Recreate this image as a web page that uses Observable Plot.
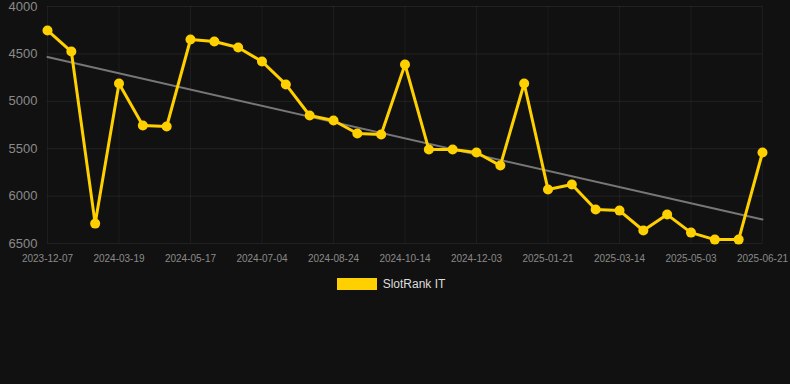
<!DOCTYPE html>
<html>
<head>
<meta charset="utf-8">
<script src="https://cdn.jsdelivr.net/npm/d3@7"></script>
<script src="https://cdn.jsdelivr.net/npm/@observablehq/plot@0.6"></script>
<style>
  html, body { margin: 0; padding: 0; background: #111111; }
  body { width: 790px; height: 384px; overflow: hidden; font-family: "Liberation Sans", Arial, sans-serif; }
  #legend { display: flex; justify-content: center; align-items: center; margin-top: 7px; color: #dddddd; font-size: 12px; padding-right: 8px; }
  #legend .sw { width: 40px; height: 12px; background: #ffd000; margin-right: 6px; }
</style>
</head>
<body>
<div id="chart"></div>
<div id="legend"><span class="sw"></span><span id="legend-label"></span></div>
<script>
const dates = [
  "2023-12-07","2024-01-10","2024-02-14","2024-03-19","2024-04-08","2024-04-28",
  "2024-05-17","2024-06-02","2024-06-18","2024-07-04","2024-07-21","2024-08-07",
  "2024-08-24","2024-09-10","2024-09-27","2024-10-14","2024-10-31","2024-11-16",
  "2024-12-03","2024-12-19","2025-01-04","2025-01-21","2025-02-07","2025-02-24",
  "2025-03-14","2025-03-31","2025-04-16","2025-05-03","2025-05-19","2025-06-04",
  "2025-06-21"
];
const ranks = [
  4253, 4475, 6290, 4812, 5255, 5266,
  4348, 4369, 4432, 4580, 4822, 5150,
  5203, 5340, 5350, 4612, 5509, 5509,
  5540, 5678, 4812, 5931, 5878, 6142,
  6153, 6363, 6195, 6385, 6459, 6459,
  5540
];
const yTicks = [4000, 4500, 5000, 5500, 6000, 6500];
const seriesName = "SlotRank IT";

document.getElementById("legend-label").textContent = seriesName;

const data = dates.map((d, i) => ({i, date: d, rank: ranks[i]}));
const xTicks = dates.map((d, i) => i).filter(i => i % 3 === 0);

const chart = Plot.plot({
  width: 790,
  height: 270,
  marginTop: 6,
  marginLeft: 47,
  marginRight: 28,
  marginBottom: 27,
  style: {background: "#111111", color: "#888888", fontFamily: "Liberation Sans, Arial, sans-serif"},
  x: {domain: [0, dates.length - 1], label: null},
  y: {domain: [4000, 6500], reverse: true, label: null},
  marks: [
    Plot.gridY(yTicks, {stroke: "#ffffff", strokeOpacity: 0.07}),
    Plot.gridX(xTicks, {stroke: "#ffffff", strokeOpacity: 0.05}),
    Plot.axisY(yTicks, {tickSize: 0, tickPadding: 10, fontSize: 13, fill: "#8a8a8a", label: null, tickFormat: d => String(d)}),
    Plot.axisX(xTicks, {tickSize: 0, tickPadding: 11, fontSize: 10, fill: "#8a8a8a", label: null, tickFormat: i => dates[i]}),
    Plot.linearRegressionY(data, {x: "i", y: "rank", stroke: "#777777", strokeWidth: 2, ci: 0}),
    Plot.line(data, {x: "i", y: "rank", stroke: "#ffd000", strokeWidth: 3}),
    Plot.dot(data, {x: "i", y: "rank", r: 5, fill: "#ffd000"})
  ]
});
document.getElementById("chart").appendChild(chart);
</script>
</body>
</html>
